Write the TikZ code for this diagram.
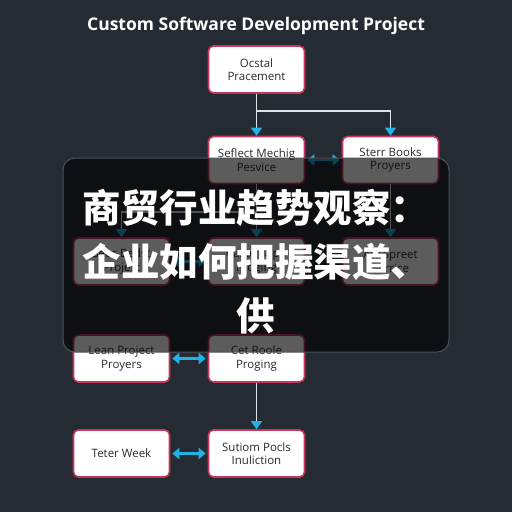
\documentclass[tikz,border=0pt]{standalone}
\usepackage{fontspec}
\setmainfont{Open Sans}
\newfontfamily\cjk{Noto Sans CJK SC}
\usetikzlibrary{arrows.meta}

\definecolor{bgcol}{HTML}{252B33}
\definecolor{boxline}{HTML}{C8365E}
\definecolor{boxtext}{HTML}{2A2A2A}
\definecolor{linecol}{HTML}{DCE2E8}
\definecolor{tipcyan}{HTML}{23B2E4}
\definecolor{shadeline}{HTML}{4C535C}

\newcommand*{\pwidth}{512}
\newcommand*{\pheight}{512}

\begin{document}
\begin{tikzpicture}
[
	x=1pt, y=-1pt,
	pbox/.style={draw=boxline, line width=1.6pt, fill=white, rounded corners=5pt,
		minimum width=96pt, minimum height=47pt, align=center, text=boxtext,
		font=\fontsize{11.5}{13.5}\selectfont, inner sep=2pt},
	flow/.style={draw=linecol, line width=1.3pt,
		-{Triangle[color=tipcyan,width=11pt,length=8pt]}},
	twoway/.style={draw=tipcyan, line width=2.4pt, shorten <=2pt, shorten >=2pt,
		{Triangle[width=11pt,length=7pt]}-{Triangle[width=11pt,length=7pt]}}
]

	% background
	\fill[bgcol] (0,0) rectangle (\pwidth,\pheight);
	\useasboundingbox (0,0) rectangle (\pwidth,\pheight);

	\node[text=white, font=\bfseries\fontsize{17.5}{20}\selectfont] (title) at (256,26)
		{Custom Software Development Project};

	% boxes
	\node[pbox] (ocstal)  at (256.5,69.5) {Ocstal\\Pracement};
	\node[pbox] (seflect) at (256.5,160)  {Seflect Mechig\\Pesvice};
	\node[pbox] (sterr)   at (390.5,160)  {Sterr Books\\Proyers};
	\node[pbox] (seec)    at (121.5,261.5) {Seec Bedst\\Projest};
	\node[pbox] (caste)   at (256.5,261.5) {Caste Bapp\\Proging};
	\node[pbox] (spreet)  at (390.5,261.5) {Arr Spreet\\Serrice};
	\node[pbox] (lean)    at (121.5,358.5) {Lean Project\\Proyers};
	\node[pbox] (cet)     at (256.5,358.5) {Cet Roole\\Proging};
	\node[pbox] (teter)   at (121.5,453.5) {Teter Week};
	\node[pbox] (sutiom)  at (256.5,453.5) {Sutiom Pocls\\Inuliction};

	% connectors
	\coordinate (split1) at (256.5,111);
	\coordinate (split2) at (256.5,212);
	\draw[flow] (ocstal.south) -- (seflect.north);
	\draw[flow, -] (ocstal.south) -- (split1);
	\draw[flow] (split1) -| (sterr.north);
	\draw[flow] (seflect.south) -- (caste.north);
	\draw[flow] (split2) -| (seec.north);
	\draw[flow] (sterr.south) -- (spreet.north);
	\draw[flow] (cet.south) -- (sutiom.north);

	\draw[twoway] (seflect.east) -- (sterr.west);
	\draw[twoway] (seec.east) -- (caste.west);
	\draw[twoway] (lean.east) -- (cet.west);
	\draw[twoway] (teter.east) -- (sutiom.west);

	% banner
	\draw[shadeline, line width=1pt, fill=black, fill opacity=0.64, rounded corners=12pt]
		(63,158) rectangle (449,352);
	\node[text=white, align=center, inner sep=0pt,
		font=\cjk\bfseries\fontsize{38.5}{54}\selectfont] (banner) at (256,262)
		{商贸行业趋势观察：\\企业如何把握渠道、\\供};

\end{tikzpicture}
\end{document}
